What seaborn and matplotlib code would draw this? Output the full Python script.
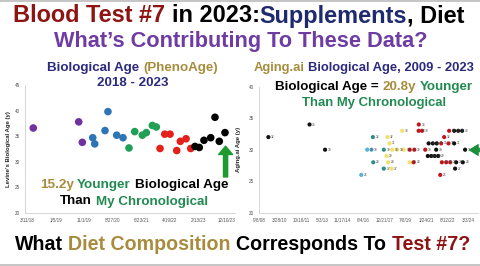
import numpy as np
import pandas as pd
import matplotlib
matplotlib.use("Agg")
import matplotlib.pyplot as plt
import matplotlib.dates as mdates
import seaborn as sns
from matplotlib.patches import FancyArrowPatch

sns.set_style("white")
plt.rcParams['font.family'] = ['Liberation Sans', 'DejaVu Sans']

# ---------------- Left chart data (PhenoAge) ----------------
left_dates = ["2018-05-16", "2019-09-05", "2019-10-13",
              "2020-01-30", "2020-02-20", "2020-06-07", "2020-07-08", "2020-10-08", "2020-12-13",
              "2021-02-14", "2021-04-15", "2021-07-04", "2021-08-15", "2021-10-17", "2021-11-28",
              "2022-01-06", "2022-02-24", "2022-04-21", "2022-06-30", "2022-08-07", "2022-10-06", "2022-11-24",
              "2023-01-08", "2023-02-22", "2023-04-12", "2023-06-22", "2023-08-06", "2023-09-20", "2023-11-19"]
left_ages = [36.6, 37.8, 33.8,
             34.7, 33.5, 36.1, 39.8, 35.2, 34.7,
             32.7, 35.9, 35.2, 35.7, 37.1, 36.8,
             32.6, 35.4, 35.4, 32.2, 34.0, 34.5, 32.6,
             33.0, 32.8, 34.2, 34.7, 38.7, 34.0, 35.7]
left_groups = ["P"] * 3 + ["B"] * 6 + ["G"] * 6 + ["R"] * 7 + ["K"] * 7
left_palette = {"P": "#7030A0", "B": "#2E75B6", "G": "#1FA055", "R": "#E3201C", "K": "#000000"}
left_xticks = ["3/11/18", "1/5/19", "11/1/19", "8/27/20", "6/23/21", "4/19/22", "2/13/23", "12/10/23"]
left_yticks = [20, 25, 30, 35, 40, 45]

# ---------------- Right chart data (Aging.ai), x in decimal years ----------------
black_yr = [2009.38, 2012.43, 2013.58, 2021.19, 2021.25, 2021.45, 2021.56, 2021.70, 2021.81, 2021.85,
            2021.96, 2023.14, 2023.14, 2023.21, 2023.29, 2023.44, 2023.73, 2023.78, 2023.95]
black_age = [32, 34, 30, 29, 31, 29, 31, 29, 30, 31,
             29, 33, 31, 27, 28, 33, 33, 28, 30]
red_yr = [2019.85, 2020.14, 2020.19, 2020.51, 2020.52, 2020.76, 2021.00, 2022.11, 2022.18, 2022.23,
          2022.40, 2022.55, 2022.72, 2022.77, 2022.85]
red_age = [30, 28, 30, 33, 34, 33, 30, 26, 31, 28,
           32, 28, 31, 33, 28]
yellow_yr = [2018.13, 2018.20, 2018.25, 2018.35, 2018.50, 2018.55, 2018.92, 2019.29, 2019.40, 2019.85]
yellow_age = [29, 32, 28, 31, 27, 30, 30, 33, 30, 28]
teal_yr = [2017.12, 2017.15, 2017.93, 2017.93]
teal_age = [32, 28, 30, 27]
cyan_yr = [2016.26, 2016.70, 2017.02]
cyan_age = [26, 30, 30]
right_palette = {"K": "#111111", "R": "#C0161B", "Y": "#F3E06A", "T": "#2F8C8C", "C": "#58B2D6"}
right_xticks = ["9/8/08", "3/28/10", "10/16/11", "5/3/13", "11/17/14", "6/4/16",
                "12/21/17", "7/8/19", "1/24/21", "8/12/22", "3/3/24"]
right_yticks = [20, 25, 30, 35, 40]


def yr_to_date(y):
    y = np.asarray(y, dtype=float)
    return pd.Timestamp("2008-01-01") + pd.to_timedelta((y - 2008.0) * 365.25, unit="D")


left_df = pd.DataFrame({"date": pd.to_datetime(left_dates), "age": left_ages, "grp": left_groups})
parts = []
for g, yrs, ages in [("C", cyan_yr, cyan_age), ("T", teal_yr, teal_age), ("Y", yellow_yr, yellow_age),
                     ("R", red_yr, red_age), ("K", black_yr, black_age)]:
    parts.append(pd.DataFrame({"date": yr_to_date(yrs), "age": ages, "grp": g}))
right_df = pd.concat(parts, ignore_index=True)

W, H = 480, 266
fig = plt.figure(figsize=(W / 100, H / 100), dpi=100)
fig.patch.set_facecolor("white")


def fx(px):
    return px / W


def fy(py):
    return 1 - py / H


# ---------------- Left axes ----------------
axL = fig.add_axes([fx(25), fy(213), fx(235) - fx(25), fy(85) - fy(213)])
sns.scatterplot(data=left_df, x="date", y="age", hue="grp", palette=left_palette, s=30,
                edgecolor="none", legend=False, ax=axL, zorder=3)
axL.set_ylim(20, 45)
axL.set_xlim(pd.Timestamp("2018-02-18"), pd.Timestamp("2024-03-03"))
axL.set_xticks(pd.to_datetime(left_xticks, format="%m/%d/%y"))
axL.set_xticklabels(left_xticks)
axL.set_yticks(left_yticks)
axL.set_xlabel("")
axL.set_ylabel("Levine's Biological Age (y)", fontsize=4.3, fontweight="bold", labelpad=3)

# ---------------- Right axes ----------------
axR = fig.add_axes([fx(259), fy(212.7), fx(478) - fx(259), fy(86.7) - fy(212.7)])
sns.scatterplot(data=right_df, x="date", y="age", hue="grp", palette=right_palette, s=9,
                edgecolor="none", legend=False, ax=axR, zorder=3)
for d, a in zip(right_df["date"], right_df["age"]):
    axR.annotate(f"{a}", (d, a), xytext=(2.0, 0), textcoords="offset points",
                 fontsize=2.3, color="#444444", va="center", ha="left", zorder=4)
axR.set_ylim(20, 40)
axR.set_xlim(pd.Timestamp("2008-09-08"), pd.Timestamp("2024-11-27"))
axR.set_xticks(pd.to_datetime(right_xticks, format="%m/%d/%y"))
axR.set_xticklabels(right_xticks)
axR.set_yticks(right_yticks)
axR.set_xlabel("")
axR.set_ylabel("Aging.ai Age (y)", fontsize=4.3, fontweight="bold", labelpad=6)

for ax in (axL, axR):
    ax.set_facecolor("white")
    for side in ("top", "right"):
        ax.spines[side].set_visible(False)
    for side in ("left", "bottom"):
        ax.spines[side].set_color("#D0D0D0")
        ax.spines[side].set_linewidth(0.6)
    ax.tick_params(axis="both", labelsize=3.3, colors="#555555", length=1.5, width=0.4, pad=2)
    ax.grid(False)

# ---------------- Arrows ----------------
xa = mdates.date2num(pd.Timestamp("2023-11-25"))
arrL = FancyArrowPatch((xa, 26.5), (xa, 33.6),
                       arrowstyle="simple,head_width=10,head_length=6,tail_width=3",
                       mutation_scale=1, color="#1E9A2E", transform=axL.transData,
                       clip_on=False, zorder=5)
axL.add_patch(arrL)

arrR = FancyArrowPatch((fx(482), fy(150)), (fx(467), fy(150)),
                       arrowstyle="simple,head_width=7.5,head_length=6,tail_width=2.5",
                       mutation_scale=1, color="#1C8F3C", transform=fig.transFigure,
                       clip_on=False, zorder=5)
fig.patches.append(arrR)

# ---------------- Multi-colour text helper ----------------
renderer = fig.canvas.get_renderer()


def width_of(s, size):
    t = fig.text(0, 0, s, fontsize=size, fontweight="bold")
    w = t.get_window_extent(renderer).width
    t.remove()
    return w


def ctext(xc, yc, pieces, width_px):
    full = "".join(p for p, _ in pieces)
    size = 10.0 * width_px / width_of(full, 10.0)
    total = width_of(full, size)
    x0 = xc - total / 2
    prefix = ""
    for s, c in pieces:
        core = s.strip()
        lead = s[:len(s) - len(s.lstrip())]
        if prefix + lead:
            off = width_of(prefix + lead + core, size) - width_of(core, size)
        else:
            off = 0.0
        fig.text(fx(x0 + off), fy(yc), core, fontsize=size, fontweight="bold", color=c,
                 ha="left", va="center")
        prefix += s


DARKRED = "#8E1414"
NAVY = "#1F2A6E"
NAVY2 = "#2B2A7C"
PURPLE = "#6E3CA2"
TAN = "#A78C3E"
GREEN = "#218A52"

ctext(239, 16, [("Blood Test #7", DARKRED), (" in 2023:", "#000000"), ("Supplements", NAVY),
                (", Diet", "#000000")], 452)
ctext(240.5, 42, [("What\u2019s Contributing To These Data?", PURPLE)], 373)
ctext(132.5, 68, [("Biological Age ", NAVY2), ("(PhenoAge)", TAN)], 171)
ctext(132.5, 83, [("2018 - 2023", NAVY2)], 71)
ctext(134, 185, [("15.2y ", TAN), ("Younger ", GREEN), ("Biological Age", "#000000")], 188)
ctext(134, 201.5, [("Than ", "#000000"), ("My Chronological", GREEN)], 148)
ctext(364, 68, [("Aging.ai ", TAN), ("Biological Age, 2009 - 2023", NAVY2)], 222)
ctext(374, 87, [("Biological Age = ", "#000000"), ("20.8y", TAN), (" Younger", GREEN)], 198)
ctext(374.5, 103, [("Than My Chronological", GREEN)], 145)
ctext(242.5, 244, [("What ", "#000000"), ("Diet Composition", TAN), (" Corresponds To ", "#000000"),
                   ("Test #7?", DARKRED)], 455)

# frame lines
fig.add_artist(plt.Line2D([0, 1], [fy(0.8), fy(0.8)], color="#BBBBBB", lw=1.2, transform=fig.transFigure))
fig.add_artist(plt.Line2D([0, 1], [fy(264.5), fy(264.5)], color="#BBBBBB", lw=1.2, transform=fig.transFigure))

fig.savefig("out.png", dpi=100, facecolor="white")
